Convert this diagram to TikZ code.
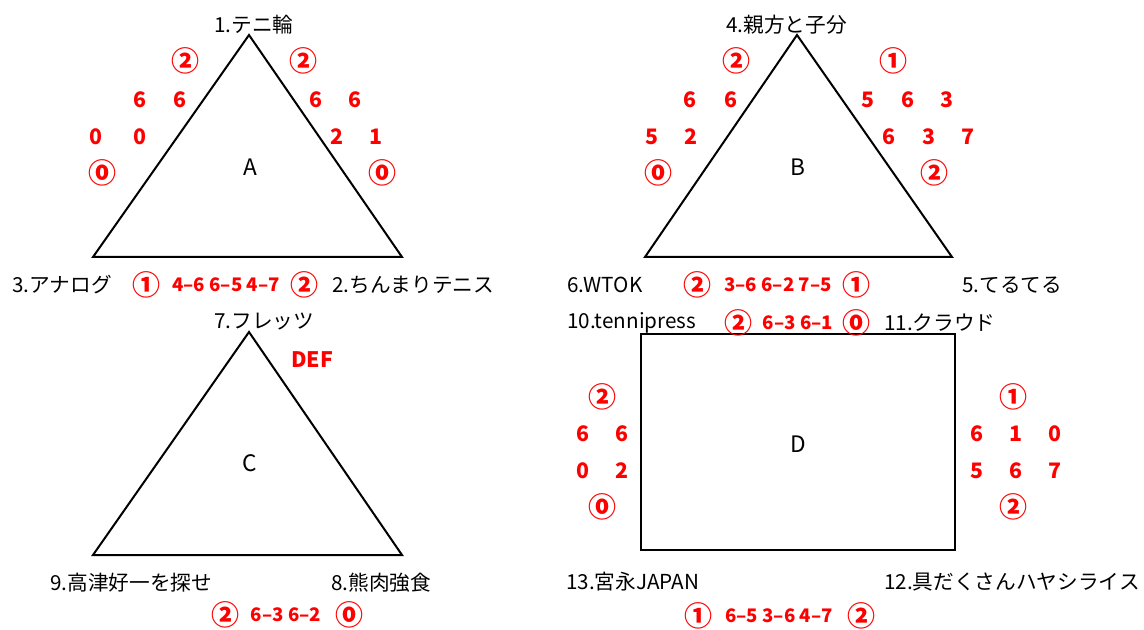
\documentclass[tikz,border=0pt]{standalone}
\usepackage{fontspec}
\setmainfont{Noto Sans CJK JP}
\begin{document}
\begin{tikzpicture}[x=0.75pt,y=-0.75pt,
  lbl/.style={font=\fontsize{15.5}{15.5}\selectfont, inner sep=0pt, anchor=west},
  big/.style={font=\fontsize{17}{17}\selectfont, inner sep=0pt},
  num/.style={text=red, font=\bfseries\fontsize{16}{16}\selectfont, inner sep=0pt},
  circ/.style={text=red, font=\bfseries\fontsize{21}{21}\selectfont, inner sep=0pt},
  score/.style={text=red, font=\bfseries\fontsize{14}{14}\selectfont, inner sep=0pt},
  outline/.style={draw=black, line width=1.5pt}]
\useasboundingbox (0,0) rectangle (1144,630);

% ---------------- A ----------------
\coordinate (A1) at (249,35);
\coordinate (A2) at (402,257);
\coordinate (A3) at (93,257);
\draw[outline] (A1) -- (A2) -- (A3) -- cycle;
\node[big] (Alab) at (250,167) {A};
\node[lbl] (a1) at (214,25) {1.テニ輪};
\node[lbl] (a3) at (12,285) {3.アナログ};
\node[lbl] (a2) at (332,285) {2.ちんまりテニス};
\node[circ] (ac1) at (185,61) {②};
\node[circ] (ac2) at (303,61) {②};
\node[num] (an1) at (140,100) {6};
\node[num] (an2) at (180,100) {6};
\node[num] (an3) at (316,100) {6};
\node[num] (an4) at (355,100) {6};
\node[num] (an5) at (96,137) {0};
\node[num] (an6) at (140,137) {0};
\node[num] (an7) at (337,137) {2};
\node[num] (an8) at (376,137) {1};
\node[circ] (ac3) at (102,173) {⓪};
\node[circ] (ac4) at (382,173) {⓪};
\node[circ] (ac5) at (146,285) {①};
\node[score] (as) at (226,285) {4–6 6–5 4–7};
\node[circ] (ac6) at (304,285) {②};

% ---------------- B ----------------
\coordinate (B1) at (797,35);
\coordinate (B2) at (952,257);
\coordinate (B3) at (645,257);
\draw[outline] (B1) -- (B2) -- (B3) -- cycle;
\node[big] (Blab) at (798,167) {B};
\node[lbl] (b4) at (726,25) {4.親方と子分};
\node[lbl] (b6) at (567,285) {6.WTOK};
\node[lbl] (b5) at (962,285) {5.てるてる};
\node[circ] (bc1) at (736,61) {②};
\node[circ] (bc2) at (893,61) {①};
\node[num] (bn1) at (690,100) {6};
\node[num] (bn2) at (731,100) {6};
\node[num] (bn3) at (868,100) {5};
\node[num] (bn4) at (908,100) {6};
\node[num] (bn5) at (947,100) {3};
\node[num] (bn6) at (652,137) {5};
\node[num] (bn7) at (691,137) {2};
\node[num] (bn8) at (889,137) {6};
\node[num] (bn9) at (929,137) {3};
\node[num] (bn10) at (968,137) {7};
\node[circ] (bc3) at (658,173) {⓪};
\node[circ] (bc4) at (934,173) {②};
\node[circ] (bc5) at (697,285) {②};
\node[score] (bs) at (778,285) {3–6 6–2 7–5};
\node[circ] (bc6) at (856,285) {①};

% ---------------- C ----------------
\coordinate (C1) at (249,332);
\coordinate (C2) at (402,555);
\coordinate (C3) at (93,555);
\draw[outline] (C1) -- (C2) -- (C3) -- cycle;
\node[big] (Clab) at (250,463) {C};
\node[lbl] (c7) at (214,322) {7.フレッツ};
\node[num] (cdef) at (312,360) {DEF};
\node[lbl] (c9) at (50,583) {9.高津好一を探せ};
\node[lbl] (c8) at (331,583) {8.熊肉強食};
\node[circ] (cc1) at (225,615) {②};
\node[score] (cs) at (286,615) {6–3 6–2};
\node[circ] (cc2) at (349,615) {⓪};

% ---------------- D ----------------
\coordinate (Dnw) at (641,334);
\coordinate (Dse) at (955,550);
\draw[outline] (Dnw) rectangle (Dse);
\node[big] (Dlab) at (798,444) {D};
\node[lbl] (d10) at (567,323) {10.tennipress};
\node[circ] (dc1) at (738,323) {②};
\node[score] (ds1) at (798,323) {6–3 6–1};
\node[circ] (dc2) at (856,323) {⓪};
\node[lbl] (d11) at (884,323) {11.クラウド};
\node[circ] (dc3) at (602,397) {②};
\node[num] (dn1) at (583,434) {6};
\node[num] (dn2) at (622,434) {6};
\node[num] (dn3) at (583,471) {0};
\node[num] (dn4) at (622,471) {2};
\node[circ] (dc4) at (602,507) {⓪};
\node[circ] (dc5) at (1013,397) {①};
\node[num] (dn5) at (977,434) {6};
\node[num] (dn6) at (1016,434) {1};
\node[num] (dn7) at (1055,434) {0};
\node[num] (dn8) at (977,471) {5};
\node[num] (dn9) at (1016,471) {6};
\node[num] (dn10) at (1055,471) {7};
\node[circ] (dc6) at (1013,507) {②};
\node[lbl] (d13) at (566,582) {13.宮永JAPAN};
\node[lbl] (d12) at (884,582) {12.具だくさんハヤシライス};
\node[circ] (dc7) at (698,616) {①};
\node[score] (ds2) at (779,616) {6–5 3–6 4–7};
\node[circ] (dc8) at (861,616) {②};
\end{tikzpicture}
\end{document}
